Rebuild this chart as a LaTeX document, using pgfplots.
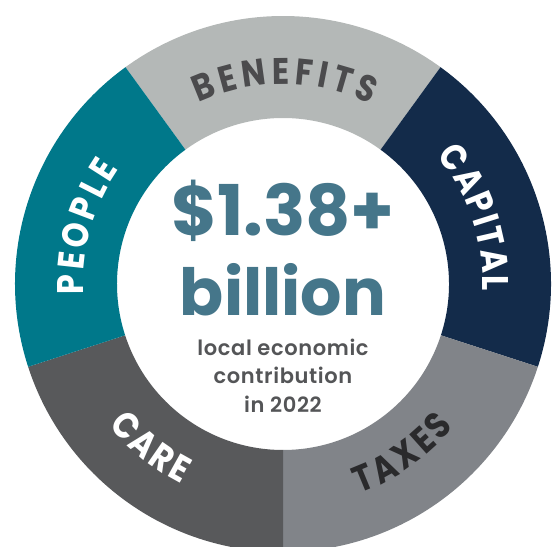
\documentclass[border=0pt]{standalone}
\usepackage{pgfplots}
\pgfplotsset{compat=1.18}
\usepackage{pgfplotstable}
\usepackage{fontspec}
\setmainfont{Poppins}
\newfontfamily\lblfont{Poppins}[FakeStretch=0.86]
\newfontfamily\smallfont{Poppins SemiBold}[LetterSpace=3]
\usetikzlibrary{decorations.text}

\definecolor{cBen}{HTML}{B4B8B7}
\definecolor{cCap}{HTML}{132B4A}
\definecolor{cTax}{HTML}{818489}
\definecolor{cCare}{HTML}{58595B}
\definecolor{cPeople}{HTML}{00788A}
\definecolor{cBig}{HTML}{45768A}
\definecolor{cSmall}{HTML}{545557}
\definecolor{cBenTxt}{HTML}{4B4B4D}
\definecolor{cTaxTxt}{HTML}{2A2A2C}

% shares of the ring, clockwise from the top left
\pgfplotstableread{
name     value colour
BENEFITS 20    cBen
CAPITAL  20    cCap
TAXES    20    cTax
CARE     20    cCare
PEOPLE   20    cPeople
}\segments

\def\cx{283}\def\cy{262}
\def\Ro{268}\def\Ri{166}

% radius, from, to, colour, text
\newcommand\ringlabel[5]{%
  \path[decorate,decoration={text along path,text align=fit to path,text color=#4,
    text={|\lblfont\bfseries\fontsize{37}{37}\selectfont|#5}}]
    (C) ++(#2:#1pt) arc[start angle=#2,end angle=#3,radius=#1pt];}

\begin{document}
\begin{tikzpicture}
\begin{axis}[
  x=1pt, y=1pt,
  xmin=0, xmax=556, ymin=0, ymax=546,
  scale only axis,
  hide axis,
  clip=true,
]
\path (axis cs:0,0) rectangle (axis cs:556,546);
\coordinate (C) at (axis cs:\cx,\cy);
\def\acc{126}
\pgfplotsforeachungrouped \i in {0,...,4}{%
  \pgfplotstablegetelem{\i}{value}\of\segments \let\val\pgfplotsretval
  \pgfplotstablegetelem{\i}{colour}\of\segments \let\col\pgfplotsretval
  \pgfmathsetmacro\aS{\acc}%
  \pgfmathsetmacro\aE{\acc-3.6*\val}%
  \pgfmathsetmacro\xo{\cx+\Ro*cos(\aS)}%
  \pgfmathsetmacro\yo{\cy+\Ro*sin(\aS)}%
  \pgfmathsetmacro\xin{\cx+\Ri*cos(\aE)}%
  \pgfmathsetmacro\yin{\cy+\Ri*sin(\aE)}%
  \edef\seg{\noexpand\fill[\col] (axis cs:\xo,\yo)
    arc[start angle=\aS,end angle=\aE,radius=\Ro pt]
    -- (axis cs:\xin,\yin)
    arc[start angle=\aE,end angle=\aS,radius=\Ri pt] -- cycle;}%
  \seg
  \global\let\acc\aE
}

\node[text=cBig, font=\bfseries\fontsize{70}{70}\selectfont, anchor=base]
  at (axis cs:283,310) {\$1.38+};
\node[text=cBig, font=\bfseries\fontsize{65}{65}\selectfont, anchor=base]
  at (axis cs:283,230) {billion};
\node[text=cSmall, font=\smallfont\fontsize{21}{21}\selectfont, anchor=base]
  at (axis cs:283,190) {local economic};
\node[text=cSmall, font=\smallfont\fontsize{21}{21}\selectfont, anchor=base]
  at (axis cs:283,162) {contribution};
\node[text=cSmall, font=\smallfont\fontsize{21}{21}\selectfont, anchor=base]
  at (axis cs:283,134) {in 2022};
\end{axis}

\ringlabel{200}{115}{64}{cBenTxt}{BENEFITS}
\ringlabel{200}{40}{-2}{white}{CAPITAL}
\ringlabel{200}{183}{145}{white}{PEOPLE}
\ringlabel{223}{290}{320}{cTaxTxt}{TAXES}
\ringlabel{224}{219}{243}{white}{CARE}
\end{tikzpicture}
\end{document}
